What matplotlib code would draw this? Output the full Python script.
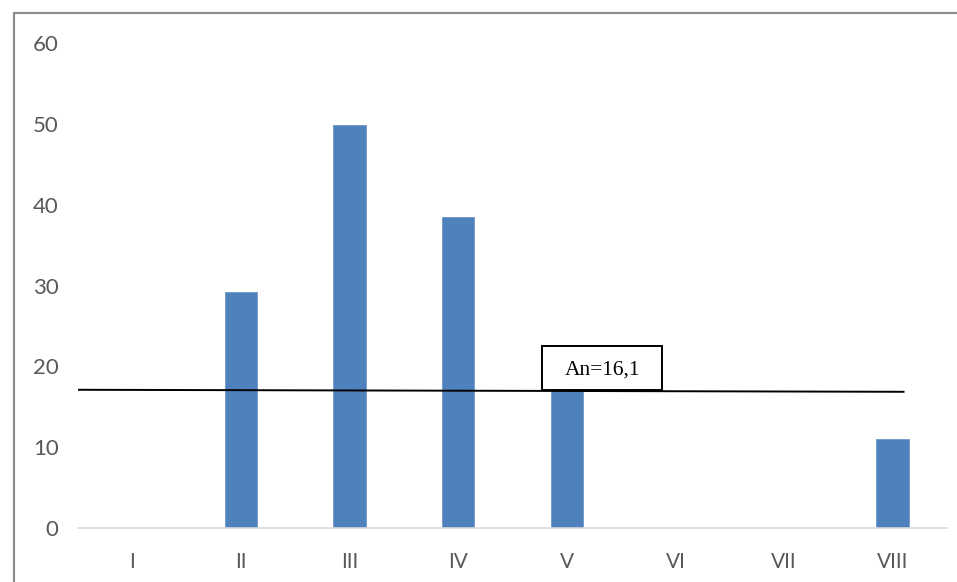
import matplotlib
matplotlib.use('Agg')
import matplotlib.pyplot as plt
from matplotlib.patches import Rectangle

# data
categories = ['I', 'II', 'III', 'IV', 'V', 'VI', 'VII', 'VIII']
values = [0, 29.2, 49.8, 38.5, 17.2, 0, 0, 11.0]
avg_line_x = [-0.5, 7.1]
avg_line_y = [17.1, 16.85]
avg_label = 'An=16,1'

fig = plt.figure(figsize=(9.57, 5.82), dpi=100)
ax = fig.add_axes([78/957, 54/582, (947-78)/957, (528-43)/582])

# outer chart frame (top/left visible, rest cropped)
fig.patches.append(Rectangle((14/957, -0.1), 1.2, 1 - 13/582 + 0.1, transform=fig.transFigure,
                             fill=False, edgecolor='#8c8c8c', linewidth=1.6))

x = range(len(categories))
ax.bar(x, values, width=0.30, color='#4F81BD', edgecolor='#6d97c9', linewidth=0.6, zorder=2)

# average line
ax.plot(avg_line_x, avg_line_y, color='black', linewidth=1.4, zorder=3)

# label box
ax.add_patch(Rectangle((3.77, 17.1), 1.11, 5.4, facecolor='white', edgecolor='black',
                       linewidth=1.4, zorder=4))
ax.text(3.77 + 1.11/2, 17.1 + 2.5, avg_label, ha='center', va='center',
        fontsize=15.5, family='Liberation Serif', zorder=5)

ax.set_xlim(-0.5, 7.5)
ax.set_ylim(0, 60)
ax.set_yticks(range(0, 61, 10))
ax.set_xticks(list(x))
ax.set_xticklabels(categories)

for s in ['top', 'right', 'left']:
    ax.spines[s].set_visible(False)
ax.spines['bottom'].set_color('#d9d9d9')
ax.spines['bottom'].set_linewidth(1.2)

ax.tick_params(axis='both', length=0, colors='#595959')
ax.tick_params(axis='x', pad=17, labelsize=15)
ax.tick_params(axis='y', pad=14, labelsize=16)
for lab in ax.get_xticklabels() + ax.get_yticklabels():
    lab.set_family('Lato')

plt.savefig('out.png', dpi=100)
